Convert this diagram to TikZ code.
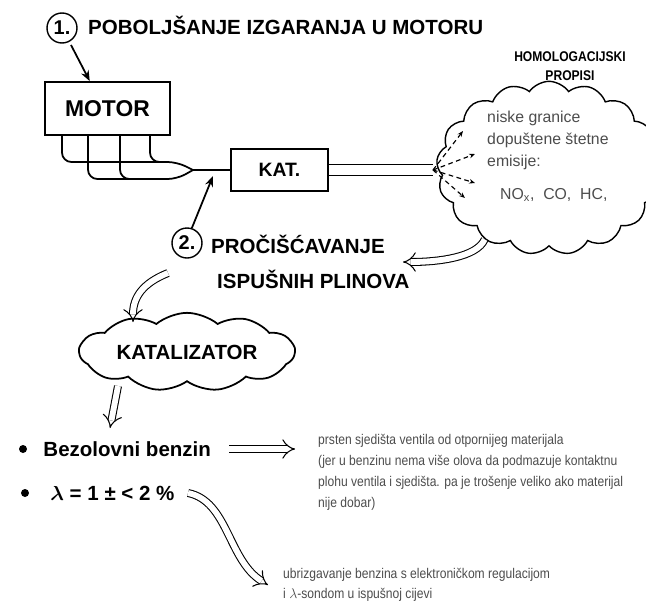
\documentclass[tikz,border=0pt]{standalone}
\usepackage{fontspec}
\setmainfont{Liberation Sans}
\newfontfamily\narrowfont[FakeStretch=0.86]{Liberation Sans}
\usetikzlibrary{positioning,calc,arrows.meta,shapes.symbols}

\tikzset{
  box/.style={draw, line width=1.5pt, inner sep=0pt,
    font=\fontsize{16.5}{18}\selectfont\bfseries},
  num/.style={draw, circle, line width=1.2pt, minimum size=0.9cm,
    inner sep=0pt, font=\fontsize{17}{18}\selectfont\bfseries},
  head/.style={inner sep=0pt, font=\fontsize{17.5}{20}\selectfont\bfseries},
  pipe/.style={line width=1.5pt, rounded corners=8pt},
  hollow/.style={double, double distance=5pt, line width=0.9pt, -{Implies}},
  spray/.style={line width=1pt, dash pattern=on 4pt off 3pt,
    -{Stealth[length=5pt, width=4pt]}},
  push/.style={line width=1.5pt, -{Stealth[length=9pt, width=7pt]}},
  gray text/.style={inner sep=0pt, text=black!70, align=left},
  note/.style={gray text, anchor=west,
    font=\narrowfont\fontsize{12}{17.9}\selectfont},
  dot/.style={circle, fill, minimum size=0.24cm, inner sep=0pt},
}

\begin{document}
\begin{tikzpicture}[x=0.03cm, y=-0.03cm]%
\useasboundingbox (0,0) rectangle (646,605);%

% engine and exhaust
\node [num] (c1) at (62,28) {1.};%
\node [head, anchor=west] (t1) at (88,25) {POBOLJŠANJE IZGARANJA U MOTORU};%
\node [box, minimum width=3.75cm, minimum height=1.59cm,
  font=\fontsize{19.5}{20}\selectfont\bfseries] (motor)
  at (107.5,108.5) {MOTOR};%
\draw [push, shorten <=3pt] (c1.-62) --
  ($(motor.north west)!.36!(motor.north east)$);%

\coordinate (jn) at (193,170);%
\draw [pipe] (62,135) |- (177,162) -- (jn);%
\draw [pipe] (88,135) |- (177,179) -- (jn);%
\draw [pipe] (120,135) |- (132,179);%
\draw [pipe] (150,135) |- (162,162);%

\node [box, minimum width=2.91cm, minimum height=1.26cm] (kat)
  at (279.5,170) {KAT.};%
\draw [line width=1.5pt] (jn) -- (kat);%
\coordinate (ex) at (433,170);%
\draw [line width=1.3pt, double, double distance=8pt] (kat) -- (ex);%

% regulations
\node [cloud, draw, line width=1.2pt, cloud puffs=17, cloud puff arc=110,
  aspect=1.3, minimum width=6.75cm, minimum height=5.2cm] (emis)
  at (549,168) {};%
\node [align=center, inner sep=0pt,
  font=\narrowfont\fontsize{12}{16}\selectfont\bfseries] (hom)
  at (570,66) {HOMOLOGACIJSKI\\PROPISI};%
\node [gray text, anchor=west, font=\fontsize{13.5}{18.7}\selectfont] (lim)
  at (487,140) {niske granice\\dopuštene štetne\\emisije:};%
\node [gray text, anchor=west, font=\fontsize{13.5}{16}\selectfont] (gas)
  at (500,195) {NO\textsubscript{x}, \ CO, \ HC,};%
\foreach \p in {(463,131),(475,154),(475,183),(465,198)}
  \draw [spray] (ex) -- \p;%

% cleaning
\node [num] (c2) at (187,243) {2.};%
\node [head, anchor=west] (t2a) at (211,244) {PROČIŠĆAVANJE};%
\node [head, anchor=west] (t2b) at (217,279) {ISPUŠNIH PLINOVA};%
\coordinate (kin) at (213,176);%
\draw [push] (c2.72) -- (kin);%
\coordinate (h2) at (403,262);%
\draw [hollow] (emis.228) .. controls +(-8,18) and +(35,0) .. (h2);%

\node [cloud, draw, line width=1.5pt, cloud puffs=11, cloud puff arc=80,
  aspect=3.3, minimum width=6.45cm, minimum height=2cm, head] (kat2)
  at (187,352) {KATALIZATOR};%
\coordinate (h3) at (168,273);%
\coordinate (h3e) at (133,322);%
\draw [hollow] (h3) .. controls +(-25,10) and +(0,-25) .. (h3e);%

% consequences
\node [dot] (d1) at (23,449) {};%
\node [head, right=0.48cm of d1] (b1) {Bezolovni benzin};%
\coordinate (h4) at (118,386);%
\coordinate (h4e) at (110,428);%
\draw [hollow] (h4) -- (h4e);%
\node [note] (r1) at (318,472) {prsten sjedišta ventila od otpornijeg materijala\\
  (jer u benzinu nema više olova da podmazuje kontaktnu\\
  plohu ventila i sjedišta. pa je trošenje veliko ako materijal\\
  nije dobar)};%
\draw [hollow] ([xshift=0.54cm]b1.east) -- ++(66,0);%

\node [dot] (d2) at (25,493) {};%
\node [head, right=0.63cm of d2] (b2) {{\boldmath$\lambda$} = 1 ± < 2 \%};%
\node [note, font=\narrowfont\fontsize{12}{17}\selectfont] (r2)
  at (283,585) {ubrizgavanje benzina s elektroničkom regulacijom\\
  i $\lambda$-sondom u ispušnoj cijevi};%
\draw [hollow] ([xshift=0.4cm]b2.east) .. controls +(40,8) and +(-40,-25)
  .. ([xshift=-0.45cm]r2.west);%
\end{tikzpicture}
\end{document}
